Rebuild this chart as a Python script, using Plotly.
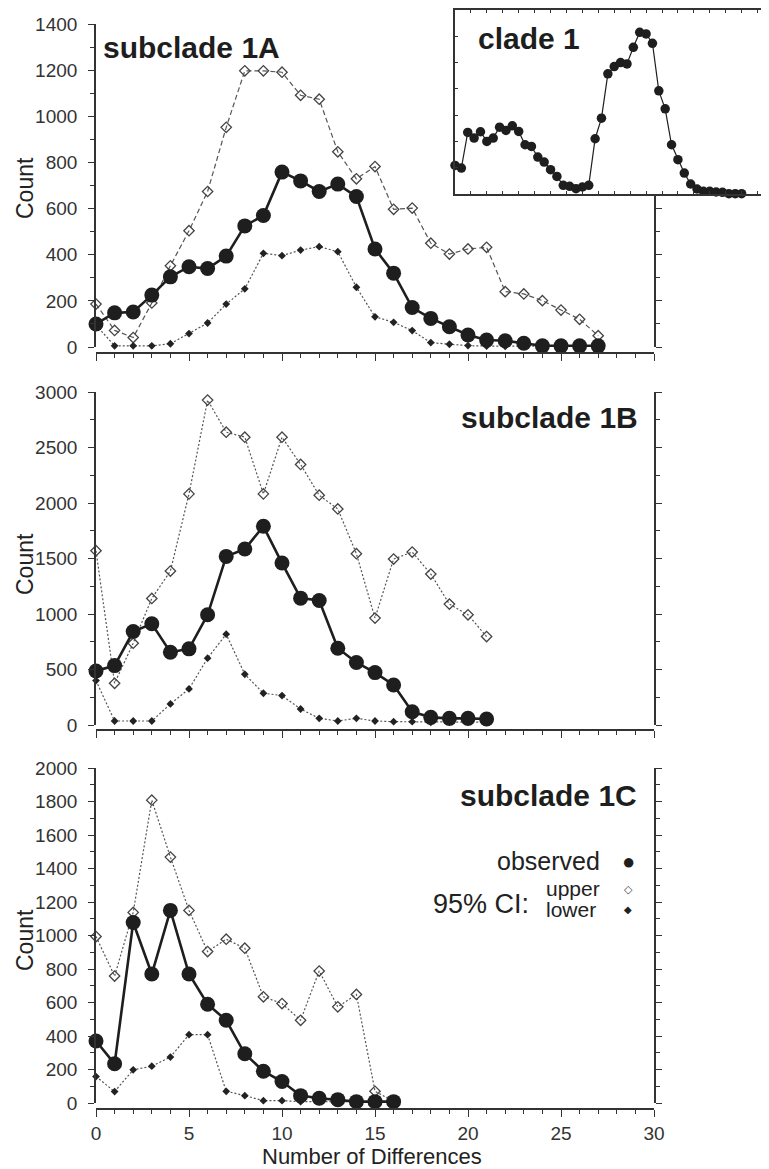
import plotly.graph_objects as go

# The page body has an 8px margin, so the figure is offset by it
OFF = 8
W, H = 761, 1161

# ---------------- data ----------------
x_a = list(range(0, 28))
obs_a = [100, 148, 152, 225, 304, 348, 340, 394, 525, 570, 758, 720, 674, 706, 652,
         425, 320, 171, 124, 88, 52, 30, 27, 16, 5, 5, 5, 5]
upper_a = [186, 72, 41, 191, 352, 504, 674, 952, 1197, 1197, 1191, 1091, 1074, 846, 729,
           782, 597, 602, 450, 403, 425, 432, 240, 230, 201, 160, 120, 49]
lower_a = [95, 5, 5, 5, 14, 58, 104, 186, 252, 406, 396, 420, 435, 413, 259,
           131, 107, 71, 19, 12, 6, 4, 3, 3, 3, 3, 3, 3]

x_b = list(range(0, 22))
obs_b = [487, 535, 842, 912, 656, 686, 993, 1519, 1585, 1790, 1459, 1143, 1122, 692,
         563, 472, 361, 120, 69, 60, 60, 54]
upper_b = [1570, 376, 737, 1140, 1387, 2082, 2927, 2638, 2593, 2082, 2593, 2347, 2070,
           1946, 1543, 963, 1495, 1558, 1360, 1089, 993, 797]
lower_b = [400, 36, 36, 36, 190, 325, 602, 818, 457, 286, 265, 144, 60, 36, 60, 36,
           30, 30, 25, 25, 25, 25]

x_c = list(range(0, 17))
obs_c = [370, 234, 1078, 770, 1150, 770, 590, 494, 294, 190, 128, 44, 28, 20, 8, 8, 8]
upper_c = [994, 758, 1138, 1808, 1468, 1150, 904, 978, 924, 634, 594, 494, 788, 574,
           648, 70, 10]
lower_c = [158, 68, 198, 220, 274, 408, 408, 70, 44, 14, 14, 8, 8, 8, 8, 8, 8]

x_clade = list(range(0, 46))
obs_clade = [544, 494, 1171, 1063, 1184, 1000, 1063, 1272, 1209, 1297, 1190, 937, 905,
             703, 608, 462, 335, 165, 146, 101, 133, 165, 1051, 1443, 2285, 2424, 2500,
             2475, 2791, 3076, 3044, 2867, 1962, 1620, 937, 652, 399, 190, 95, 51, 51,
             38, 32, 6, 6, 6]

panel_titles = ["subclade 1A", "subclade 1B", "subclade 1C"]
inset_title = "clade 1"
y_title = "Count"
x_title = "Number of Differences"

# ---------------- styling / geometry ----------------
FONT = "Liberation Sans, Arial, Helvetica, sans-serif"
INK = "#1e1e1e"
GRAY = "#555555"
AX = "#333333"


def px_x(p):
    return (p - OFF) / W


def px_y(p):
    return 1 - (p - OFF) / H


x_dom = [px_x(96), px_x(654)]
panels = [
    dict(x=x_a, obs=obs_a, up=upper_a, lo=lower_a, top=24, zero=347, xline=353,
         ymax=1400, dtick=200, minor=100, updash="5px,3px", ytitle_y=188),
    dict(x=x_b, obs=obs_b, up=upper_b, lo=lower_b, top=392, zero=725, xline=730,
         ymax=3000, dtick=500, minor=250, updash="2px,2px", ytitle_y=564),
    dict(x=x_c, obs=obs_c, up=upper_c, lo=lower_c, top=768, zero=1103, xline=1109,
         ymax=2000, dtick=200, minor=100, updash="2px,2px", ytitle_y=940),
]

fig = go.Figure()
layout = dict(
    width=W, height=H,
    margin=dict(l=0, r=0, t=0, b=0, pad=0),
    paper_bgcolor="white", plot_bgcolor="white",
    showlegend=False,
    font=dict(family=FONT, color=INK),
    template="none",
)

ann = []


def add_text(text, xp, yp, size, xanchor="left", bold=False, color=INK, angle=0):
    ann.append(dict(text=f"<b>{text}</b>" if bold else text,
                    x=px_x(xp), y=px_y(yp), xref="paper", yref="paper",
                    xanchor=xanchor, yanchor="middle", showarrow=False,
                    textangle=angle,
                    font=dict(size=size, color=color, family=FONT)))


top_ids = [7, 8, 9]
for i, p in enumerate(panels):
    n = i + 1
    xa = "x" if n == 1 else f"x{n}"
    ya = "y" if n == 1 else f"y{n}"
    # upper CI
    fig.add_trace(go.Scatter(
        x=p["x"], y=p["up"], xaxis=xa, yaxis=ya, mode="lines+markers",
        line=dict(color=GRAY, width=1.2, dash=p["updash"]),
        marker=dict(symbol="diamond-open", size=8, color="#444",
                    line=dict(width=1.3, color="#444")),
        cliponaxis=False, hoverinfo="skip"))
    # lower CI
    fig.add_trace(go.Scatter(
        x=p["x"], y=p["lo"], xaxis=xa, yaxis=ya, mode="lines+markers",
        line=dict(color=GRAY, width=1.2, dash="2px,2px"),
        marker=dict(symbol="diamond", size=6, color="#222"),
        cliponaxis=False, hoverinfo="skip"))
    # observed
    fig.add_trace(go.Scatter(
        x=p["x"], y=p["obs"], xaxis=xa, yaxis=ya, mode="lines+markers",
        line=dict(color=INK, width=2.6),
        marker=dict(symbol="circle", size=15, color=INK),
        cliponaxis=False, hoverinfo="skip"))

    xkey = "xaxis" if n == 1 else f"xaxis{n}"
    ykey = "yaxis" if n == 1 else f"yaxis{n}"
    last = (n == 3)
    layout[xkey] = dict(
        domain=x_dom, range=[0, 30], anchor="free", position=px_y(p["xline"]),
        automargin=False,
        showline=True, linecolor=AX, linewidth=1.6,
        ticks="outside", ticklen=7, tickwidth=1.3, tickcolor=AX, dtick=5, tick0=0,
        minor=dict(ticks="outside", ticklen=4, dtick=1, tickcolor=AX, tickwidth=1),
        showgrid=False, zeroline=False,
        showticklabels=last, tickfont=dict(size=19, color="#333", family=FONT),
        ticklabelstandoff=0,
    )
    layout[ykey] = dict(
        domain=[px_y(p["zero"]), px_y(p["top"])], range=[0, p["ymax"]], anchor=xa,
        automargin=False,
        showline=True, linecolor=AX, linewidth=1.6, mirror="ticks",
        ticks="outside", ticklen=6, tickwidth=1.3, tickcolor=AX,
        dtick=p["dtick"], tick0=0,
        minor=dict(ticks="outside", ticklen=4, dtick=p["minor"], tickcolor=AX,
                   tickwidth=1),
        showgrid=False, zeroline=False,
        tickfont=dict(size=19, color="#333", family=FONT),
        ticklabelstandoff=7,
    )
    t = top_ids[i]
    layout[f"xaxis{t}"] = dict(
        overlaying=xa, side="top", anchor=ya, range=[0, 30], automargin=False,
        showline=True, linecolor=AX, linewidth=1.6,
        ticks="outside", ticklen=7, tickwidth=1.3, tickcolor=AX, dtick=5, tick0=0,
        minor=dict(ticks="outside", ticklen=4, dtick=1, tickcolor=AX, tickwidth=1),
        showgrid=False, zeroline=False, showticklabels=False,
    )
    add_text(y_title, 25, p["ytitle_y"], 23, "center", color="#222", angle=-90)

add_text(x_title, 372, 1156, 22, "center", color="#222")

# cover region behind the inset (white panel)
layout["xaxis4"] = dict(domain=[px_x(443), 1], range=[0, 1], anchor="y4",
                        automargin=False,
                        showline=False, showticklabels=False, ticks="",
                        showgrid=False, zeroline=False)
layout["yaxis4"] = dict(domain=[px_y(208), 1], range=[0, 1], anchor="x4",
                        automargin=False,
                        showline=False, showticklabels=False, ticks="",
                        showgrid=False, zeroline=False)

# inset: clade 1
fig.add_trace(go.Scatter(
    x=x_clade, y=obs_clade, xaxis="x5", yaxis="y5", mode="lines+markers",
    line=dict(color=INK, width=1.2),
    marker=dict(symbol="circle", size=9.5, color=INK),
    cliponaxis=False, hoverinfo="skip"))
layout["xaxis5"] = dict(domain=[px_x(455), 1], range=[0, 49.3], anchor="y5",
                        automargin=False,
                        showline=True, linecolor=AX, linewidth=1.5, mirror="ticks",
                        ticks="inside", ticklen=3, tickwidth=1, tickcolor=AX,
                        dtick=2.5, tick0=0, showticklabels=False,
                        showgrid=False, zeroline=False)
layout["yaxis5"] = dict(domain=[px_y(194), px_y(10)], range=[0, 3500], anchor="x5",
                        automargin=False,
                        showline=True, linecolor=AX, linewidth=1.5,
                        ticks="inside", ticklen=3, tickwidth=1, tickcolor=AX,
                        dtick=500, tick0=0, showticklabels=False,
                        showgrid=False, zeroline=False)

add_text(panel_titles[0], 101, 47, 30, "left", True)
add_text(panel_titles[1], 640, 418, 30, "right", True)
add_text(panel_titles[2], 639, 795, 30, "right", True)
add_text(inset_title, 476, 38, 30, "left", True)

# legend
add_text("observed", 602, 861, 25, "right", color="#222")
add_text("●", 628, 861, 22, "center", color=INK)
add_text("95% CI:", 531, 904, 27, "right", color="#222")
add_text("upper", 544, 888, 21, "left", color="#222")
add_text("lower", 544, 909, 21, "left", color="#222")
add_text("◇", 628, 889, 11, "center", color="#444")
add_text("◆", 628, 910, 10, "center", color="#222")

layout["annotations"] = ann
fig.update_layout(**layout)
fig.write_html("out.html")
